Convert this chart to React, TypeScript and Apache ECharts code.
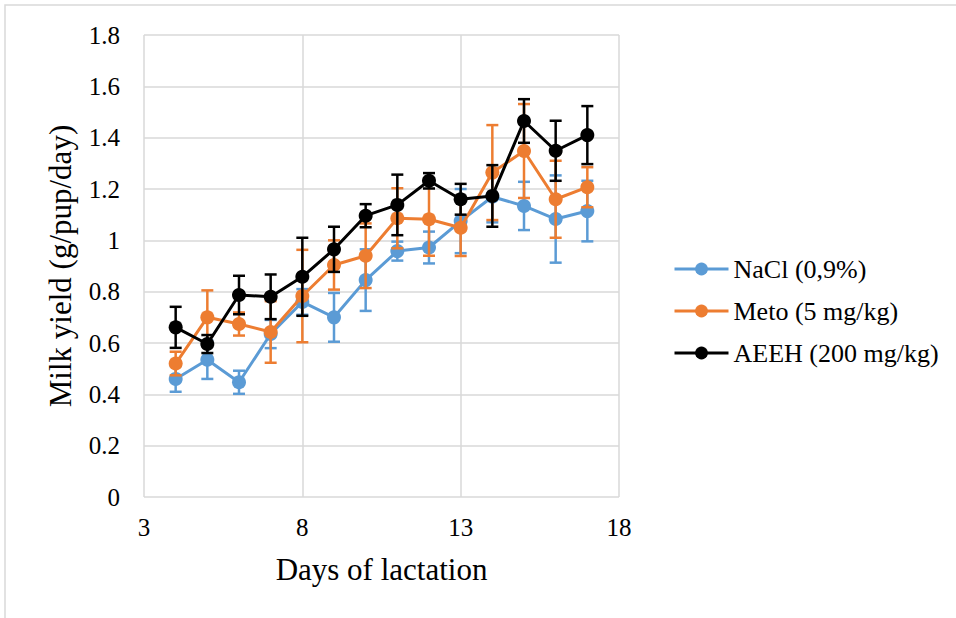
import React, { useEffect, useRef } from "react";
import * as echarts from "echarts";

const days = [4, 5, 6, 7, 8, 9, 10, 11, 12, 13, 14, 15, 16, 17];
const naclMean = [0.46, 0.535, 0.447, 0.635, 0.76, 0.70, 0.845, 0.958, 0.972, 1.075, 1.17, 1.134, 1.083, 1.114];
const naclErr = [0.05, 0.075, 0.045, 0.055, 0.05, 0.095, 0.12, 0.037, 0.062, 0.125, 0.1, 0.094, 0.17, 0.118];
const metoMean = [0.52, 0.70, 0.674, 0.643, 0.783, 0.904, 0.94, 1.086, 1.082, 1.049, 1.264, 1.348, 1.16, 1.207];
const metoErr = [0.046, 0.105, 0.045, 0.12, 0.18, 0.096, 0.126, 0.117, 0.142, 0.11, 0.185, 0.183, 0.15, 0.078];
const aeehMean = [0.661, 0.596, 0.787, 0.78, 0.858, 0.965, 1.096, 1.138, 1.232, 1.16, 1.173, 1.465, 1.349, 1.41];
const aeehErr = [0.08, 0.035, 0.075, 0.087, 0.152, 0.088, 0.045, 0.118, 0.03, 0.06, 0.12, 0.085, 0.117, 0.113];

const seriesNames = ["NaCl (0,9%)", "Meto (5 mg/kg)", "AEEH (200 mg/kg)"];
const seriesColors = ["#5B9BD5", "#ED7D31", "#000000"];

const FONT = "Liberation Serif";

export default function App() {
  const ref = useRef<HTMLDivElement>(null);
  useEffect(() => {
    if (!ref.current) return;
    const chart = echarts.init(ref.current, undefined, { renderer: "svg" });
    const means = [naclMean, metoMean, aeehMean];
    const errs = [naclErr, metoErr, aeehErr];
    const series: any[] = [];
    means.forEach((m, i) => {
      const color = seriesColors[i];
      series.push({
        name: seriesNames[i] + " err",
        type: "custom",
        z: 2 + i * 2,
        encode: { x: 0, y: 1 },
        data: days.map((d, k) => [d, m[k], errs[i][k]]),
        renderItem: (params: any, api: any) => {
          const x = api.value(0);
          const y = api.value(1);
          const e = api.value(2);
          const top = api.coord([x, y + e]);
          const bot = api.coord([x, y - e]);
          const half = 6;
          const st = { stroke: color, lineWidth: 2.5 };
          return {
            type: "group",
            children: [
              { type: "line", shape: { x1: top[0], y1: top[1], x2: bot[0], y2: bot[1] }, style: st },
              { type: "line", shape: { x1: top[0] - half, y1: top[1], x2: top[0] + half, y2: top[1] }, style: st },
              { type: "line", shape: { x1: bot[0] - half, y1: bot[1], x2: bot[0] + half, y2: bot[1] }, style: st },
            ],
          };
        },
      });
      series.push({
        name: seriesNames[i],
        type: "line",
        z: 3 + i * 2,
        data: days.map((d, k) => [d, m[k]]),
        symbol: "circle",
        symbolSize: 14,
        color,
        lineStyle: { color, width: 3 },
        itemStyle: { color },
      });
    });

    chart.setOption({
      animation: false,
      backgroundColor: "#ffffff",
      textStyle: { fontFamily: FONT },
      grid: { left: 144, top: 35, right: 337, bottom: 121 },
      graphic: [
        {
          type: "rect",
          shape: { x: 5, y: 5, width: 1000, height: 1000 },
          style: { fill: "none", stroke: "#d9d9d9", lineWidth: 1.5 },
          silent: true,
        },
      ],
      legend: {
        orient: "vertical",
        left: 673,
        top: 256,
        padding: 0,
        itemGap: 16,
        itemWidth: 54,
        itemHeight: 16,
        lineStyle: { width: 3 },
        data: seriesNames,
        textStyle: { fontFamily: FONT, fontSize: 26, color: "#000", padding: [0, 0, 0, 0] },
      },
      xAxis: {
        type: "value",
        min: 3,
        max: 18,
        interval: 5,
        name: "Days of lactation",
        nameLocation: "middle",
        nameGap: 57,
        nameTextStyle: { fontFamily: FONT, fontSize: 31, color: "#000" },
        axisLine: { show: false },
        axisTick: { show: false },
        axisLabel: { fontFamily: FONT, fontSize: 25, color: "#000", margin: 18 },
        splitLine: { show: true, lineStyle: { color: "#d9d9d9", width: 1.5 } },
      },
      yAxis: {
        type: "value",
        min: 0,
        max: 1.8,
        interval: 0.2,
        name: "Milk yield (g/pup/day)",
        nameLocation: "middle",
        nameGap: 68,
        nameTextStyle: { fontFamily: FONT, fontSize: 31, color: "#000" },
        axisLine: { show: false },
        axisTick: { show: false },
        axisLabel: { fontFamily: FONT, fontSize: 25, color: "#000", margin: 24 },
        splitLine: { show: true, lineStyle: { color: "#d9d9d9", width: 1.5 } },
      },
      series,
    });
    return () => chart.dispose();
  }, []);
  return (
    <div
      ref={ref}
      style={{ position: "fixed", left: 0, top: 0, width: 956, height: 618 }}
    />
  );
}
